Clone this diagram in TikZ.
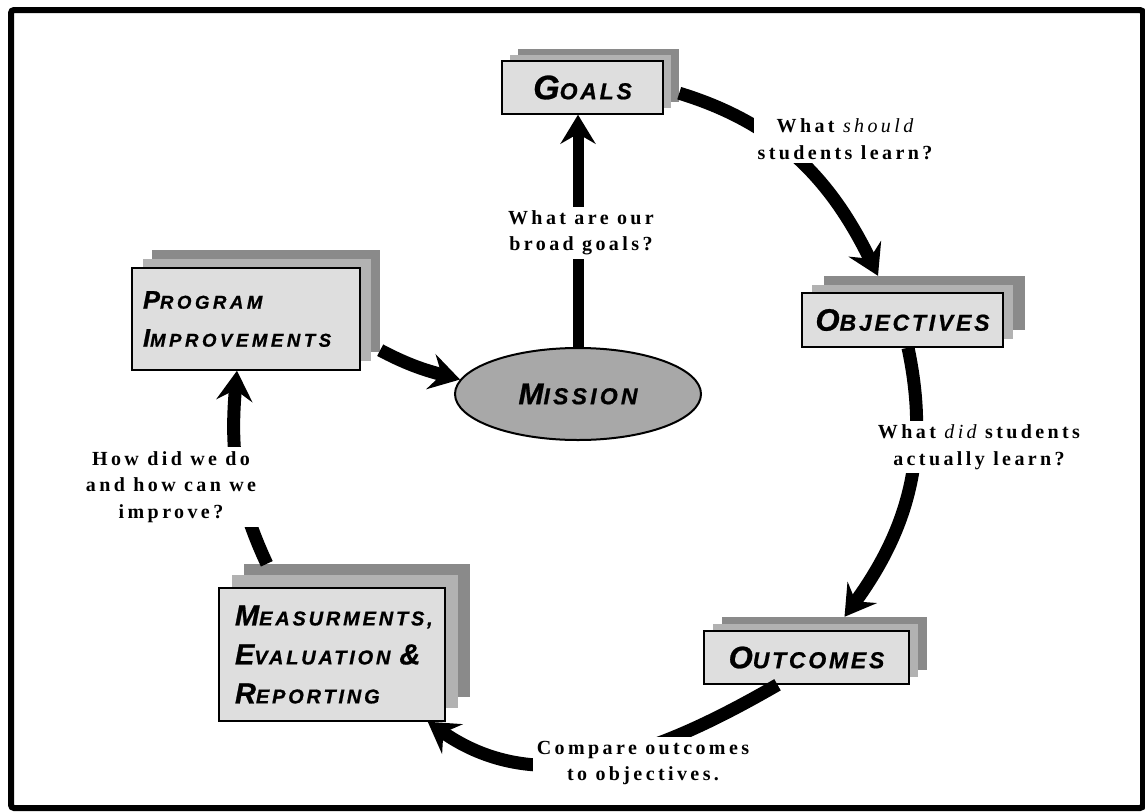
\documentclass[tikz,border=0pt]{standalone}
\usepackage{fontspec}
\usetikzlibrary{arrows.meta,shapes.geometric}
\newfontfamily\hfont[BoldItalicFeatures={FakeBold=0.8}]{Liberation Sans}
\newfontfamily\lfont[LetterSpace=17]{Liberation Serif}
\definecolor{fg}{gray}{0.87}
\definecolor{mg}{gray}{0.70}
\definecolor{dg}{gray}{0.54}
\definecolor{eg}{gray}{0.66}
\newcommand{\hsc}[4]{{\fontsize{#1}{#1}\selectfont #3}{\fontsize{#2}{#2}\selectfont #4}}
\begin{document}
\begin{tikzpicture}[x=1pt,y=-1pt,
  front/.style={draw=black, line width=1.5pt, fill=fg, inner sep=0pt},
  layA/.style={fill=mg, inner sep=0pt},
  layB/.style={fill=dg, inner sep=0pt},
  hd/.style={font={\hfont\bfseries\itshape\addfontfeature{LetterSpace=#1}}},
  lbl/.style={font={\lfont\bfseries\fontsize{20}{26.5}\selectfont}, fill=white, align=center, inner sep=4pt},
  arr/.style={line width=13pt, -{Stealth[length=30pt, width=36pt, inset=11pt]}},
  arrv/.style={line width=11pt, -{Stealth[length=29pt, width=35pt, inset=10pt]}},
  gsz/.style={minimum width=161pt, minimum height=53pt},
  osz/.style={minimum width=201pt, minimum height=54pt},
  usz/.style={minimum width=205pt, minimum height=53pt},
  psz/.style={minimum width=228pt, minimum height=102pt},
  msz/.style={minimum width=226pt, minimum height=133pt}]
\useasboundingbox (0,0) rectangle (1145,811);
\draw[line width=6pt, rounded corners=3pt] (11,10) rectangle (1143,808);

% Goals
\coordinate (cG) at (582.5,87.5);
\node[layB, gsz] (goals2) at ([shift={(16,-12)}]cG) {};
\node[layA, gsz] (goals1) at ([shift={(8,-6)}]cG) {};
\node[front, gsz, hd=12] (goals) at (cG) {\hsc{34}{23}{G}{OALS}};

% Objectives
\coordinate (cO) at (902.5,320);
\node[layB, osz] (obj2) at ([shift={(22,-17)}]cO) {};
\node[layA, osz] (obj1) at ([shift={(10,-8)}]cO) {};
\node[front, osz, hd=12] (obj) at (cO) {\hsc{31}{23}{O}{BJECTIVES}};

% Outcomes
\coordinate (cU) at (806.5,657.5);
\node[layB, usz] (out2) at ([shift={(18,-14)}]cU) {};
\node[layA, usz] (out1) at ([shift={(9,-7)}]cU) {};
\node[front, usz, hd=12] (out) at (cU) {\hsc{31}{23}{O}{UTCOMES}};

% Program improvements
\coordinate (cP) at (246,319);
\node[layB, psz] (prog2) at ([shift={(20,-18)}]cP) {};
\node[layA, psz] (prog1) at ([shift={(11,-9)}]cP) {};
\node[front, psz, font={\hfont\bfseries\itshape\addfontfeature{LetterSpace=19}\fontsize{18.6}{38}\selectfont},
  text width=206pt, inner xsep=11pt, align=left] (prog) at (cP)
  {\hsc{25.5}{18.6}{P}{ROGRAM}\\\hsc{25.5}{18.6}{I}{MPROVEMENTS}};

% Measurements
\coordinate (cM) at (332,654.5);
\node[layB, msz] (meas2) at ([shift={(25,-24)}]cM) {};
\node[layA, msz] (meas1) at ([shift={(13,-13)}]cM) {};
\node[front, msz, font={\hfont\bfseries\itshape\addfontfeature{LetterSpace=14}\fontsize{20}{39}\selectfont},
  text width=194pt, inner xsep=16pt, align=left] (meas) at (cM)
  {\hsc{29}{20}{M}{EASURMENTS,}\\\hsc{29}{20}{E}{VALUATION}\hspace{9pt}{\fontsize{29}{29}\selectfont\&}\\\hsc{29}{20}{R}{EPORTING}};

% Mission
\node[ellipse, draw=black, line width=2pt, fill=eg, minimum width=246pt, minimum height=92pt, inner sep=0pt, hd=14] (mission) at (578,394) {\hsc{30}{23}{M}{ISSION}};

% connectors
\draw[arrv] (mission.north) -- (mission.north |- goals.south);
\draw[arr] ([yshift=9pt]goals2.south east) to[out=-17,in=116] ([xshift=-46.5pt]obj2.north);
\draw[arr] ([xshift=5.5pt]obj.south) to[out=-78,in=54] ([xshift=20pt]out2.north);
\draw[arr] ([xshift=-29pt]out.south) to[out=-150,in=-35] ([xshift=-18pt]meas.south east);
\draw[arr] ([xshift=23pt]meas2.north west) to[out=115,in=-95] ([xshift=-9pt]prog.south);
\draw[arr] ([yshift=2pt]prog2.south east) to[out=-28,in=165] (mission.173);

% labels
\node[lbl] (q1) at (581,233) {What are our\\broad goals?};
\node[lbl] (q2) at (845,139) {What {\mdseries\itshape should}\\students learn?};
\node[lbl] (q3) at (979,447) {What {\mdseries\itshape did} students\\actually learn?};
\node[lbl] (q4) at (643,763) {Compare outcomes\\to objectives.};
\node[lbl] (q5) at (171,487) {How did we do\\and how can we\\improve?};
\end{tikzpicture}
\end{document}
